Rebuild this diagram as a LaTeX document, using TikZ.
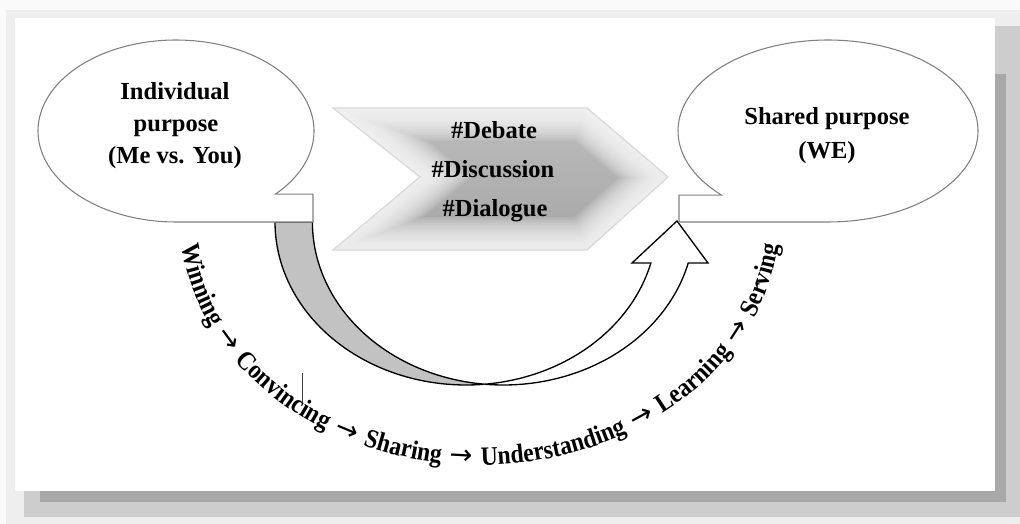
\documentclass[tikz,border=0pt]{standalone}
\usepackage{fontspec}
\setmainfont{Liberation Serif}
\newfontfamily\arcfont{Liberation Serif}[FakeStretch=0.89]
\newfontfamily\arrowsymfont{DejaVu Sans}
\newcommand\wordfmt{\arcfont\bfseries\fontsize{19.9}{22}\selectfont}
\newcommand\arrowfmt{\arrowsymfont\fontsize{20.5}{22}\selectfont}
\usetikzlibrary{decorations.text}
\definecolor{pagebg}{HTML}{FAFAFA}
\definecolor{rimlight}{HTML}{EEEEEE}
\definecolor{shadowlight}{HTML}{CDCDCD}
\definecolor{shadowdark}{HTML}{A8A8A8}
\definecolor{bubbleline}{HTML}{808080}
\definecolor{bandgray}{HTML}{C2C2C2}
\definecolor{chevtop}{HTML}{BEBEBE}
\definecolor{chevbottom}{HTML}{A4A4A4}
\definecolor{chevedge}{HTML}{DADADA}
\begin{document}
\begin{tikzpicture}[x=0.75pt,y=-0.75pt,
  bubble/.style={draw=bubbleline, fill=white, line width=0.8pt, line join=miter},
  bubbletext/.style={font=\bfseries\fontsize{18.4}{22}\selectfont, anchor=base, inner sep=0pt},
  chevtext/.style={font=\bfseries\fontsize{18.4}{22}\selectfont, anchor=base, inner sep=0pt},
  arrowline/.style={draw=black, line width=1pt, line join=miter},
  arcwords/.style={decorate, decoration={text along path, text align=center,
    text={|\wordfmt|Winning|\arrowfmt| → |\wordfmt|Convincing|\arrowfmt| → |\wordfmt|Sharing|\arrowfmt| → |\wordfmt|Understanding|\arrowfmt| → |\wordfmt|Learning|\arrowfmt| → |\wordfmt|Serving}}}
]
\useasboundingbox (0,0) rectangle (1020,524);

% framed panel with soft drop shadow
\fill[pagebg] (0,0) rectangle (1020,524);
\fill[rimlight] (6,10) rectangle (1020,524);
\fill[shadowlight] (24,26) rectangle (1020,517);
\fill[shadowdark] (40,74) rectangle (1006,502);
\fill[white] (15,18) rectangle (995,491);

% chevron with soft glowing edges
\def\chevronpath{(333,108) -- (587,108) -- (668,177) -- (587,250) -- (333,250) -- (420,177) -- cycle}
\begin{scope}
  \clip \chevronpath;
  \shade[top color=chevtop, bottom color=chevbottom] (320,100) rectangle (680,260);
  \foreach \w in {3,6,...,66}
    \draw[white, opacity=0.085, line width=\w*0.75pt, line join=miter] \chevronpath;
\end{scope}
\draw[chevedge, line width=1pt, line join=miter] \chevronpath;
\node[chevtext] (debate) at (494,139) {\#Debate};
\node[chevtext] (discussion) at (493,177) {\#Discussion};
\node[chevtext] (dialogue) at (495,216) {\#Dialogue};

% curved up arrow: shaded underside
\draw[arrowline, fill=bandgray]
  plot[domain=180:84.38, samples=70] ({466+191*cos(\x)},{222+163*sin(\x)})
  -- plot[domain=95.62:180, samples=70] ({503.4+191*cos(\x)},{222+163*sin(\x)})
  -- cycle;
% curved up arrow: body and head
\draw[arrowline, fill=white]
  plot[domain=84.38:14.57, samples=70] ({466+191*cos(\x)},{222+163*sin(\x)})
  -- (632,263) -- (677,221) -- (708,263)
  -- plot[domain=14.57:95.62, samples=70] ({503.4+191*cos(\x)},{222+163*sin(\x)})
  -- cycle;

% speech bubbles
\draw[bubble] plot[domain=90:404, samples=140] ({176+138*cos(\x)},{131+91*sin(\x)})
  -- (313,194.2) -- (313,222) -- cycle;
\draw[bubble] plot[domain=90:-224.8, samples=140] ({828+150*cos(\x)},{131+91*sin(\x)})
  -- (679,195.1) -- (679,222) -- cycle;

\node[bubbletext] (ind1) at (175,100) {Individual};
\node[bubbletext] (ind2) at (176,132) {purpose};
\node[bubbletext] (ind3) at (175,163) {(Me vs. You)};
\node[bubbletext] (sh1) at (827,125) {Shared purpose};
\node[bubbletext] (sh2) at (827,158) {(WE)};

% progression written along the arc
\path[arcwords] plot[domain=186:-6, samples=160] ({480+300*cos(\x)},{217+248*sin(\x)});

% small vertical tick
\draw[black!75, line width=0.6pt] (302,373) -- (302,403);
\end{tikzpicture}
\end{document}
